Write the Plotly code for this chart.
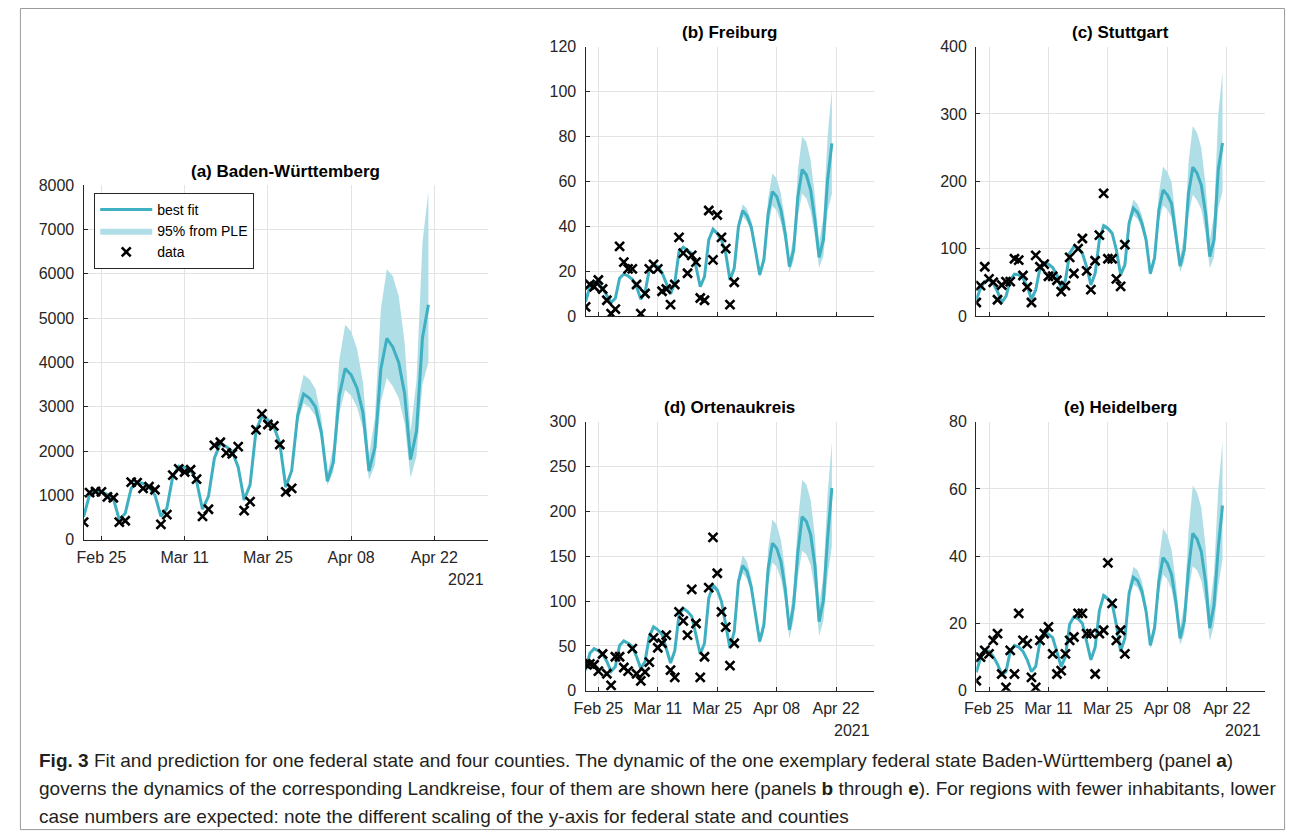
import pandas as pd
import plotly.graph_objects as go

# ---------------- data ----------------
start_date = "2021-02-22"
tick_dates = ["2021-02-25", "2021-03-11", "2021-03-25", "2021-04-08", "2021-04-22"]
tick_labels = ["Feb 25", "Mar 11", "Mar 25", "Apr 08", "Apr 22"]
band_start_day = 28

# (a) Baden-Württemberg
bw_data = [400, 1065, 1090, 1080, 970, 950, 400, 430, 1300, 1290, 1160, 1200, 1130, 350, 570,
           1460, 1600, 1530, 1580, 1370, 530, 690, 2130, 2200, 1960, 1940, 2100, 660, 860,
           2480, 2840, 2600, 2570, 2150, 1080, 1160]
bw_fit = [520, 1020, 1110, 1080, 1020, 930, 450, 600, 1160, 1310, 1270, 1190, 1010, 530, 710,
          1430, 1660, 1630, 1580, 1320, 690, 980, 1840, 2180, 2100, 1990, 1640, 900, 1240,
          2470, 2790, 2690, 2550, 2180, 1190, 1560, 2800, 3290, 3190, 3000, 2420, 1320, 1740,
          3250, 3860, 3720, 3420, 2860, 1550, 2080, 3850, 4540, 4350, 4000, 3300, 1810, 2450,
          4550, 5300]
bw_lower = [1215, 2420, 2730, 2630, 2490, 2130, 1160, 1500, 2620, 3080, 2980, 2790, 2250, 1230,
            1530, 2850, 3380, 3250, 2990, 2500, 1350, 1680, 3100, 3650, 3460, 3200, 2620, 1400,
            1880, 3500, 4000]
bw_upper = [1265, 2530, 2870, 2770, 2630, 2250, 1230, 1640, 3120, 3720, 3620, 3400, 2750, 1480,
            2100, 4050, 4850, 4700, 4300, 3550, 1900, 2750, 5200, 6100, 5950, 5500, 4450, 2450,
            3600, 6700, 7850]

# (b) Freiburg
fr_data = [4, 14, 13, 16, 12, 7, 1, 3, 31, 24, 21, 21, 14, 1, 10, 21, 23, 21, 11, 12, 5, 14,
           35, 28, 19, 27, 24, 8, 7, 47, 25, 45, 35, 30, 5, 15]
fr_fit = [6.4, 13, 15.3, 14.5, 12.3, 9.4, 6, 7.9, 16.8, 18.7, 17.8, 16.3, 13, 7.4, 10.4, 20.8,
          22.7, 22, 19.3, 14.6, 9.8, 14.6, 28.7, 30.6, 29.1, 27.9, 22, 13, 17.5, 33.9, 38.6,
          36.8, 33.9, 27.9, 16, 21.2, 39.8, 46.9, 44.6, 39.8, 29.4, 18.3, 25.2, 45.7, 55.4,
          53.2, 47.2, 36.8, 22, 29.4, 53.2, 65.3, 62.8, 56.1, 42.8, 26.1, 33.9, 60.6, 76.9]
fr_lower = [17.2, 33.2, 37.7, 35.9, 33.0, 27.1, 15.5, 20.4, 37.8, 44.4, 42.0, 37.3, 27.5, 17.0,
            22.6, 40.5, 49.0, 47.0, 41.6, 32.4, 19.4, 24.6, 44.5, 54.5, 52.3, 46.6, 35.5, 21.5,
            26.5, 46.5, 54.5]
fr_upper = [17.9, 34.7, 39.6, 37.8, 34.9, 28.8, 16.6, 22.3, 42.2, 49.8, 47.6, 42.6, 31.7, 19.8,
            28.5, 52.4, 63.5, 61.2, 54.4, 42.5, 25.5, 35.5, 65.0, 80.0, 77.5, 69.5, 53.3, 32.5,
            44.0, 80.0, 101]

# (c) Stuttgart
st_data = [20, 45, 73, 55, 50, 24, 46, 51, 51, 85, 83, 60, 43, 20, 90, 73, 77, 59, 59, 53, 36,
           45, 87, 63, 100, 115, 67, 39, 82, 120, 182, 85, 85, 55, 44, 106]
st_fit = [24, 41, 51, 54.5, 48.5, 36, 20, 29, 53, 62, 61, 56, 43.6, 25, 38.6, 71, 79, 77, 72,
          61, 40, 53, 93, 103, 100.5, 93, 73, 46, 63, 113, 134, 130, 123, 98, 61, 76, 138, 160,
          153.5, 138, 113, 63, 86, 157, 187, 180, 167, 123, 74, 98, 182, 221, 212, 194.5,
          152.5, 88, 113, 217, 257]
st_lower = [62, 110.5, 131, 127, 120, 95.5, 59, 73, 131, 150, 144, 129, 106, 59, 77, 139, 164,
            158, 146, 108, 65, 82, 150, 180, 172, 158, 123, 71, 87, 160, 185]
st_upper = [64.5, 116, 137.5, 133.5, 126.5, 101, 63, 79.5, 147, 173, 166, 150, 123, 69, 97, 182,
            222, 214, 199, 147, 88, 119, 228, 282, 272, 250, 196, 113, 150, 300, 362]

# (d) Ortenaukreis
ok_data = [30, 30, 29, 22, 41, 19, 6, 38, 38, 26, 22, 47, 19, 11, 21, 32, 59, 48, 53, 62, 23,
           15, 88, 78, 62, 113, 75, 15, 38, 115, 171, 131, 88, 71, 28, 53]
ok_fit = [23, 42, 47, 44.6, 41, 32.7, 21.5, 27, 50.5, 55.7, 53, 49.4, 38, 24.5, 32.7, 60.5,
          71.3, 68, 63, 47.5, 31, 44.6, 84.7, 92, 88.4, 83, 62.4, 41, 53, 103, 117, 112.5,
          99.5, 73.5, 47.5, 66, 122, 139.6, 133, 116, 86.5, 55, 73.5, 136.6, 164.5, 159, 144,
          114, 68, 96, 155, 194, 188.6, 174, 140, 77, 101, 170, 226]
ok_lower = [52, 100.5, 114, 109.5, 97, 71.5, 46, 63, 115, 131, 125, 109, 81, 51.5, 65, 120, 143,
            138, 125, 99, 58, 79, 127, 156, 152, 140, 112, 61, 78, 128, 161]
ok_upper = [54.5, 106, 120.5, 116, 102.5, 76, 49.5, 69.5, 131, 151, 144, 126, 94, 60, 83, 158,
            191, 185, 168, 134, 79, 115, 188, 235, 230, 213, 172, 95, 128, 220, 277]

# (e) Heidelberg
hd_data = [3, 10, 12, 11, 15, 17, 5, 1, 12, 5, 23, 15, 14, 4, 1, 15, 17, 19, 11, 5, 6, 11, 15,
           16, 23, 23, 17, 17, 5, 17, 18, 38, 26, 15, 18, 11]
hd_fit = [5.5, 9.7, 12.2, 11.7, 10.2, 7.9, 4.8, 5.7, 11.7, 13.5, 13, 11.7, 9.2, 5.7, 7.2, 14.7,
          17.4, 16.8, 15.8, 11.7, 7.2, 10.2, 19.8, 22, 21.4, 20, 14.7, 9.2, 12.9, 23.8, 28.3,
          27.3, 26, 19.6, 11.7, 15.6, 29, 33.7, 32.7, 29.7, 23.6, 13.5, 18.6, 32.5, 39.6, 37.9,
          34.5, 26.5, 15.6, 20.6, 36.4, 46.8, 45.1, 41.4, 32.5, 18.6, 25.5, 42.4, 55]
hd_lower = [12.6, 23.2, 27.6, 26.6, 25.3, 19.1, 11.3, 15, 27.4, 31.7, 30.7, 27.8, 22.1, 12.6,
            16.6, 28.6, 34.6, 33.1, 30.1, 23.1, 13.6, 17, 29.6, 37, 35.8, 32.8, 25.8, 14.7, 19.5,
            31, 39]
hd_upper = [13.2, 24.5, 29.1, 28.1, 26.8, 20.2, 12.2, 16.4, 31.2, 36.9, 35.8, 32.6, 26, 15,
            21.2, 38.5, 48.3, 46.2, 42, 32.4, 19, 25.5, 47.5, 61, 59, 54.5, 43, 24.6, 35, 60, 74]

titles = ["(a) Baden-Württemberg", "(b) Freiburg", "(c) Stuttgart", "(d) Ortenaukreis", "(e) Heidelberg"]
y_max = [8000, 120, 400, 300, 80]
y_step = [1000, 20, 100, 50, 20]

# ---------------- style / layout ----------------
W, H = 1293, 839
LINE = "#3fb0c1"
BAND = "#b0dee6"
GRID = "#e3e3e3"
AX = "#262626"
FONT = "Liberation Sans, Arial, sans-serif"
Y_SHIFT, Y_SCALE = 8.0, 0.98   # measured vertical mapping of the page in the photograph

# panel boxes in picture pixels: left, right, top, bottom
boxes = [(72.3, 480.3, 185, 540), (579, 870.4, 46.7, 316), (973.3, 1264.7, 46.7, 316),
         (579, 870.4, 421.7, 691), (973.3, 1264.7, 421.7, 691)]
title_y = [172, 33, 33, 408, 408]
show_xlabels = [True, False, False, True, True]

def fx(x):
    return x / W

def fy(y):
    return 1 - ((y - Y_SHIFT) / Y_SCALE) / H

panels = [(bw_data, bw_fit, bw_lower, bw_upper), (fr_data, fr_fit, fr_lower, fr_upper),
          (st_data, st_fit, st_lower, st_upper), (ok_data, ok_fit, ok_lower, ok_upper),
          (hd_data, hd_fit, hd_lower, hd_upper)]

fig = go.Figure()
layout = dict(width=W, height=H, margin=dict(l=0, r=0, t=0, b=0),
              paper_bgcolor="white", plot_bgcolor="white", font=dict(family=FONT, color=AX))
annotations = []

for i, (data, fit, lo, up) in enumerate(panels):
    n = i + 1
    xa = "x" if n == 1 else f"x{n}"
    ya = "y" if n == 1 else f"y{n}"
    fit_dates = pd.date_range(start_date, periods=len(fit))
    data_dates = pd.date_range(start_date, periods=len(data))
    band_dates = fit_dates[band_start_day:band_start_day + len(lo)]
    first = (i == 0)
    fig.add_trace(go.Scatter(x=band_dates, y=lo, xaxis=xa, yaxis=ya, mode="lines",
                             line=dict(width=0, color=BAND), showlegend=False, hoverinfo="skip"))
    fig.add_trace(go.Scatter(x=band_dates, y=up, xaxis=xa, yaxis=ya, mode="lines",
                             line=dict(width=0, color=BAND), fill="tonexty", fillcolor=BAND,
                             name="95% from PLE", showlegend=first, legendrank=2))
    fig.add_trace(go.Scatter(x=fit_dates, y=fit, xaxis=xa, yaxis=ya, mode="lines",
                             line=dict(width=3, color=LINE), name="best fit",
                             showlegend=first, legendrank=1))
    fig.add_trace(go.Scatter(x=data_dates, y=data, xaxis=xa, yaxis=ya, mode="markers",
                             marker=dict(symbol="x-thin", size=9, line=dict(width=2.6, color="black")),
                             name="data", showlegend=first, legendrank=3))

    l, r, t, b = boxes[i]
    axkey = "xaxis" if n == 1 else f"xaxis{n}"
    aykey = "yaxis" if n == 1 else f"yaxis{n}"
    layout[axkey] = dict(domain=[fx(l), fx(r)], anchor=ya, type="date",
                         range=["2021-02-22", "2021-05-01"],
                         tickvals=tick_dates, ticktext=tick_labels if show_xlabels[i] else [""] * 5,
                         showgrid=True, gridcolor=GRID, gridwidth=1,
                         showline=True, linecolor=AX, linewidth=1.3,
                         ticks="inside", ticklen=4, tickcolor=AX, ticklabelstandoff=3,
                         tickfont=dict(size=16, color=AX, family=FONT), zeroline=False)
    layout[aykey] = dict(domain=[fy(b), fy(t)], anchor=xa, range=[0, y_max[i]], dtick=y_step[i],
                         showgrid=True, gridcolor=GRID, gridwidth=1,
                         showline=True, linecolor=AX, linewidth=1.3,
                         ticks="inside", ticklen=4, tickcolor=AX, ticklabelstandoff=5,
                         tickfont=dict(size=16, color=AX, family=FONT), zeroline=False)
    annotations.append(dict(text=f"<b>{titles[i]}</b>", x=fx((l + r) / 2), y=fy(title_y[i]),
                            xref="paper", yref="paper", showarrow=False, xanchor="center",
                            yanchor="middle", font=dict(size=17, color="black", family=FONT)))
    if show_xlabels[i]:
        annotations.append(dict(text="2021", x=fx(r - 2), y=fy(b + 40), xref="paper", yref="paper",
                                showarrow=False, xanchor="right", yanchor="middle",
                                font=dict(size=16, color=AX, family=FONT)))

# caption
CAP_FONT = "Liberation Sans Narrow, Liberation Sans, Arial, sans-serif"
cap_lines = [
    "<b>Fig. 3</b> Fit and prediction for one federal state and four counties. The dynamic of the one exemplary federal state Baden-Württemberg (panel <b>a</b>)",
    "governs the dynamics of the corresponding Landkreise, four of them are shown here (panels <b>b</b> through <b>e</b>). For regions with fewer inhabitants, lower",
    "case numbers are expected: note the different scaling of the y-axis for federal state and counties",
]
for k, line in enumerate(cap_lines):
    annotations.append(dict(text=line, x=fx(25), y=fy(761 + 28 * k), xref="paper", yref="paper",
                            showarrow=False, xanchor="left", yanchor="middle",
                            font=dict(size=19, color="#231f20", family=CAP_FONT)))

layout["annotations"] = annotations
layout["shapes"] = [dict(type="rect", xref="paper", yref="paper", x0=fx(8.5), x1=fx(1284.5),
                         y0=0.0005, y1=fy(8.5), line=dict(color="#9a9a9a", width=1))]
layout["legend"] = dict(x=fx(83), y=fy(193), xanchor="left", yanchor="top",
                        bgcolor="white", bordercolor=AX, borderwidth=1, traceorder="normal",
                        font=dict(size=14, color="black", family=FONT),
                        itemwidth=52, tracegroupgap=0)
fig.update_layout(**layout)
fig.write_html("out.html", config={"displayModeBar": False},
               default_width="1293px", default_height="839px; position:absolute; top:0; left:0",
               post_script="document.body.style.margin='0';document.body.style.overflow='hidden';")
